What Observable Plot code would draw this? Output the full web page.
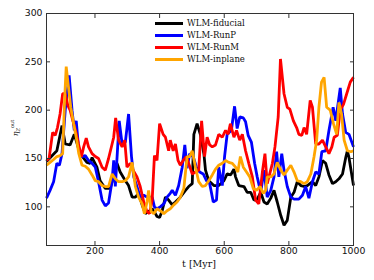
<!DOCTYPE html>
<html><head><meta charset="utf-8">
<script src="https://cdn.jsdelivr.net/npm/d3@7"></script>
<script src="https://cdn.jsdelivr.net/npm/@observablehq/plot@0.6"></script>
<style>
html,body{margin:0;padding:0;background:#fff;}
#wrap{position:relative;width:374px;height:280px;overflow:hidden;}
.lab{position:absolute;font-family:"DejaVu Serif",serif;color:#111;white-space:nowrap;}
</style></head>
<body><div id="wrap"></div>
<script>
const xTicks = [200, 400, 600, 800, 1000];
const yTicks = [100, 150, 200, 250, 300];
const seriesNames = ["WLM-fiducial", "WLM-RunP", "WLM-RunM", "WLM-inplane"];
const seriesColors = ["#000000", "#0000ff", "#ff0000", "#ffa500"];

const fiducialT = [50,82,98,108,123,136,154,175,185,191,206,216,232,247,253,263,268,278,294,304,315,325,335,346,356,366,377,387,392,400,408,418,428,439,449,464,480,490,501,506,516,526,537,542,552,568,583,599,609,620,630,635,645,661,671,682,692,702,713,723,733,744,754,764,775,785,795,806,816,826,837,847,857,873,883,893,904,914,924,935,945,955,966,976,981,986,1000];
const fiducialV = [147,158,184,165,164,175,155,146,145,151,141,127,119,119,126,141,145,136,127,122,110,110,114,102,93,95,98,93,90,89,96,110,107,102,105,110,117,121,124,175,186,175,155,138,127,122,122,127,134,133,139,131,122,121,115,115,107,108,115,105,103,109,117,105,91,81,86,110,115,126,122,121,122,126,122,131,148,145,133,124,126,129,134,151,158,151,122];

const runPT = [50,61,72,82,90,98,108,120,129,136,142,149,160,170,180,191,201,211,222,232,242,253,258,263,275,284,294,304,313,320,330,340,351,361,377,384,392,402,413,423,433,439,449,459,470,478,485,493,504,514,524,535,545,555,566,576,583,594,601,609,622,632,640,648,659,666,674,684,694,702,713,723,733,744,754,762,769,778,785,795,806,816,831,842,852,862,873,883,893,902,914,924,937,945,959,966,976,986,1000];
const runPV = [109,117,126,145,143,155,200,236,200,179,189,162,152,153,148,145,141,126,107,101,104,127,148,121,189,165,167,196,152,131,121,110,112,110,110,100,98,100,103,110,114,117,112,122,141,164,140,155,152,141,136,134,127,124,105,107,141,122,152,175,179,204,181,193,192,188,174,167,145,131,115,138,110,117,131,157,131,155,138,121,110,108,108,112,121,109,126,136,134,157,158,179,203,189,223,196,177,175,162];

const runMT = [50,58,69,77,84,92,100,108,116,123,134,142,149,158,165,173,180,191,201,211,222,232,242,253,258,264,273,284,292,299,309,318,330,340,351,361,369,377,384,392,400,411,418,428,433,442,449,457,464,473,483,490,501,511,521,530,539,547,555,563,573,583,594,604,612,619,630,638,648,656,666,676,687,697,707,718,726,733,749,757,767,774,785,795,803,814,824,831,840,847,855,866,873,883,893,904,914,924,933,940,950,959,969,979,990,1000];
const runMV = [148,150,177,174,182,196,217,217,205,200,186,176,165,152,162,171,162,155,152,150,141,138,150,165,172,192,169,162,169,141,145,138,131,121,105,95,93,107,153,148,186,175,172,158,169,158,165,148,143,148,152,145,134,136,138,189,152,172,164,162,164,175,172,179,175,186,172,179,169,175,158,145,131,107,103,136,155,124,145,162,193,253,217,203,201,189,182,175,174,182,175,210,203,165,165,169,162,155,162,172,174,200,206,217,229,234];

const inplaneT = [50,61,72,82,92,100,106,111,118,125,134,142,150,160,170,180,191,201,211,222,232,242,253,263,273,284,294,304,315,325,335,346,353,361,366,374,382,392,402,413,423,433,444,454,464,475,485,493,501,511,521,532,542,552,563,573,583,594,604,614,625,635,642,650,659,669,679,690,700,711,721,728,733,744,754,764,775,785,795,806,816,826,837,847,857,868,878,886,893,901,909,917,928,938,948,955,963,971,981,992,1000];
const inplaneV = [143,146,149,152,153,155,210,245,224,203,186,172,155,143,142,139,133,127,126,122,121,121,134,129,126,126,127,131,146,121,110,103,93,105,117,95,93,98,96,93,96,98,102,105,110,119,152,152,158,141,126,121,122,127,133,139,143,145,148,146,145,141,136,152,141,136,131,119,117,121,114,117,131,131,134,146,138,133,138,143,136,127,126,124,126,134,152,169,203,229,234,203,200,186,175,208,196,169,158,157,158];

const allT = [fiducialT, runPT, runMT, inplaneT];
const allV = [fiducialV, runPV, runMV, inplaneV];
const data = [];
seriesNames.forEach((name, i) => allT[i].forEach((t, j) => data.push({series: name, t, v: allV[i][j]})));

const W = 374, H = 280, mL = 46, mR = 21, mT = 13, mB = 35;
const plot = Plot.plot({
  width: W, height: H,
  marginLeft: mL, marginRight: mR, marginTop: mT, marginBottom: mB,
  style: {fontFamily: "DejaVu Sans", fontSize: "9.3px", color: "#111", background: "transparent", overflow: "visible"},
  x: {domain: [50, 1000]},
  y: {domain: [60, 300]},
  color: {domain: seriesNames, range: seriesColors},
  marks: [
    Plot.line(data, {x: "t", y: "v", z: "series", stroke: "series", strokeWidth: 2.8, strokeLinejoin: "miter", strokeLinecap: "butt"}),
    Plot.frame({stroke: "#333", strokeWidth: 1}),
    Plot.axisX({ticks: xTicks, tickSize: -4, tickPadding: 6, tickFormat: d => String(d), label: null, stroke: "#333"}),
    Plot.axisX({anchor: "top", ticks: xTicks, tickSize: -4, tickFormat: () => "", label: null, stroke: "#333"}),
    Plot.axisY({ticks: yTicks, tickSize: -4, tickPadding: 8, tickFormat: d => String(d), label: null, stroke: "#333"}),
    Plot.axisY({anchor: "right", ticks: yTicks, tickSize: -4, tickFormat: () => "", label: null, stroke: "#333"})
  ]
});
const wrap = document.getElementById("wrap");
wrap.appendChild(plot);

// legend (overlay, inside the frame)
const leg = document.createElement("div");
leg.style.cssText = "position:absolute;left:155px;top:17px;";
seriesNames.forEach((name, i) => {
  const row = document.createElement("div");
  row.style.cssText = "display:flex;align-items:center;height:12px;";
  const sw = document.createElement("div");
  sw.style.cssText = `width:28px;height:3px;background:${seriesColors[i]};margin-right:4px;`;
  const tx = document.createElement("span");
  tx.textContent = name;
  tx.style.cssText = "font-family:'DejaVu Serif',serif;font-size:8.5px;color:#111;line-height:12px;";
  row.appendChild(sw); row.appendChild(tx);
  leg.appendChild(row);
});
wrap.appendChild(leg);

// x label
const xl = document.createElement("div");
xl.className = "lab";
xl.textContent = "t [Myr]";
xl.style.cssText += "font-size:9.5px;left:199px;top:258px;transform:translateX(-50%);";
wrap.appendChild(xl);

// y label
const yl = document.createElement("div");
yl.className = "lab";
yl.innerHTML = "<i>η</i><sub style='font-size:5px;vertical-align:-2px'><i>Z</i></sub><sup style='font-size:5px;vertical-align:4px'>out</sup>";
yl.style.cssText += "font-size:8px;left:15px;top:128px;transform:translate(-50%,-50%) rotate(-90deg);";
wrap.appendChild(yl);
</script></body></html>
